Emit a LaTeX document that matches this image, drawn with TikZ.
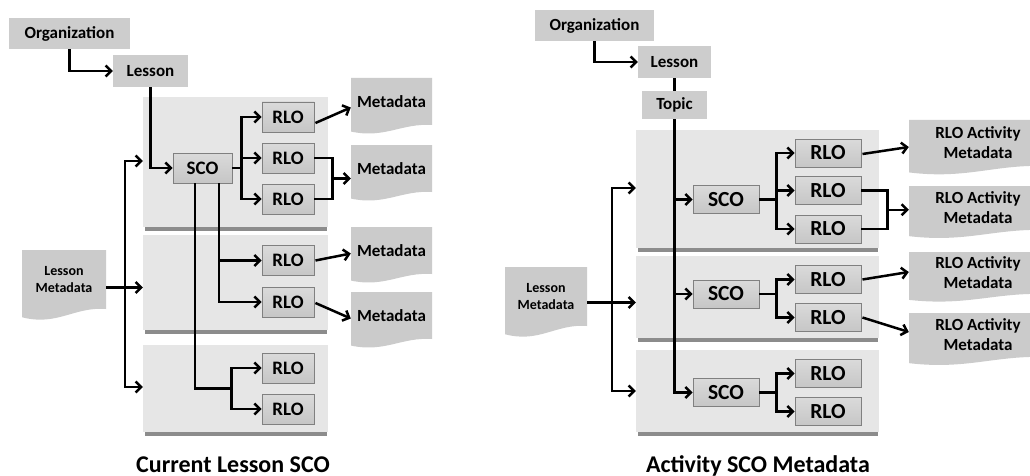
\documentclass[tikz,border=0pt]{standalone}
\usepackage{fontspec}
\setmainfont{Carlito}
\usetikzlibrary{arrows.meta,calc}

\definecolor{boxgray}{HTML}{CDCDCD}
\definecolor{panelgray}{HTML}{E6E6E6}
\definecolor{shadowgray}{HTML}{8C8C8C}
\definecolor{objtop}{HTML}{DADADA}
\definecolor{objbot}{HTML}{C6C6C6}
\definecolor{objedge}{HTML}{808080}
\definecolor{docgray}{HTML}{CBCBCB}

\newcommand\fLbl{\bfseries\fontsize{17}{20}\selectfont}
\newcommand\fSmall{\bfseries\fontsize{14}{17.5}\selectfont}
\newcommand\fObjL{\bfseries\fontsize{19}{20}\selectfont}
\newcommand\fObjR{\bfseries\fontsize{21.5}{22}\selectfont}
\newcommand\fTitle{\bfseries\fontsize{24}{26}\selectfont}

\tikzset{
  lbl/.style={fill=boxgray, font=\fLbl, inner sep=0pt},
  obj/.style={top color=objtop, bottom color=objbot, draw=objedge, line width=0.9pt, inner sep=0pt},
  objL/.style={obj, font=\fObjL},
  objR/.style={obj, font=\fObjR},
  wire/.style={line width=2.5pt, line join=miter},
  link/.style={wire, -{Straight Barb[length=5.5pt,width=11pt]}},
  heading/.style={font=\fTitle, anchor=base, inner sep=0pt},
}

% grey panel with a dark shadow strip along its lower edge
\newcommand\panel[5]{%
  \fill[shadowgray] ({#2+2},{#5-2}) rectangle ({#4-1},{#5+3.5});
  \node[fill=panelgray, inner sep=0pt, minimum width={#4-#2}, minimum height={#5-#3}]
    (#1) at ({(#2+#4)/2},{(#3+#5)/2}) {};
}

% document shape: flat top, wavy bottom; node spans x1..x2, top..yr
\newcommand\docnode[7]{%
  \pgfmathsetmacro\dw{#4-#2}%
  \pgfmathsetmacro\dh{#5-#3}%
  \pgfmathsetmacro\dd{0.14*\dh}%
  \fill[docgray] (#2,#3) -- (#4,#3) -- (#4,#5)
    .. controls ({#4-0.38*\dw},{#5-0.3*\dd}) and ({#2+0.42*\dw},{#5+2.1*\dd}) .. (#2,{#5+\dd}) -- cycle;
  \node[font=#6, align=center, inner sep=0pt, minimum width=\dw, minimum height=\dh]
    (#1) at ({(#2+#4)/2},{(#3+#5)/2}) {#7};
}

\begin{document}
\begin{tikzpicture}[x=1pt,y=-1pt]
\useasboundingbox (0,0) rectangle (1030,476);

% ================= left: Current Lesson SCO =================
\node[lbl, minimum width=121, minimum height=31] (orgL) at (69.5,33.5) {Organization};
\node[lbl, minimum width=75, minimum height=32] (lesL) at (150.5,71) {Lesson};

\panel{pL1}{143}{97}{328}{227}
\panel{pL2}{143}{235}{328}{330}
\panel{pL3}{143}{345}{328}{432}

\node[objL, minimum width=59, minimum height=30] (scoL) at (202.5,168) {SCO};
\foreach \n/\y in {1/117,2/158,3/199,4/260.5,5/302,6/368,7/409}
  \node[objL, minimum width=52, minimum height=30] (rloL\n) at (288,\y) {RLO};

\docnode{metaL1}{351}{78}{432}{125}{\fLbl}{Metadata}
\docnode{metaL2}{351}{145}{432}{192}{\fLbl}{Metadata}
\docnode{metaL3}{351}{227}{432}{274}{\fLbl}{Metadata}
\docnode{metaL4}{351}{292}{432}{339}{\fLbl}{Metadata}
\docnode{lmL}{22}{250}{106}{309}{\fSmall}{Lesson\\Metadata}

\draw[link] (orgL.south) |- (lesL.west);
\draw[link] (lesL.south) |- (scoL.west);

% SCO to its three RLOs
\coordinate (jL) at ($(scoL.east)+(9,0)$);
\foreach \n in {1,2,3}
  \draw[link] (scoL.east) -- (jL) |- (rloL\n.west);

% two drops from the SCO to the lower panels
\coordinate (dA) at ($(scoL.south)+(16.5,0)$);
\coordinate (dB) at ($(scoL.south)+(-7.5,0)$);
\draw[link] (dA) |- (rloL4.west);
\draw[link] (dA) |- (rloL5.west);
\coordinate (jL3) at ($(rloL6.west)!.5!(rloL7.west)+(-30,0)$);
\draw[wire] (dB) |- (jL3);
\draw[link] (jL3) |- (rloL6.west);
\draw[link] (jL3) |- (rloL7.west);

% RLO to metadata
\draw[link] ($(rloL1.east)+(1,6)$) -- ($(metaL1.west)+(0,6)$);
\coordinate (mjL) at ($(rloL2.east)!.5!(rloL3.east)+(18,0)$);
\draw[wire] (rloL2.east) -| (mjL) |- (rloL3.east);
\draw[link] (mjL) -- (mjL -| metaL2.west);
\draw[link] ($(rloL4.east)+(1,0)$) -- ($(metaL3.west)+(0,3)$);
\draw[link] ($(rloL5.east)+(1,1)$) -- ($(metaL4.west)+(0,3)$);

% lesson metadata bus
\coordinate (busLt) at (125,161);
\coordinate (busLb) at (125,387);
\draw[link] (busLb) |- (pL1.west |- busLt);
\draw[link] (busLt) |- (pL3.west |- busLb);
\coordinate (lmLout) at ($(lmL.east)+(0,8)$);
\draw[link] (lmLout) -- (lmLout -| pL2.west);

\node[heading] (titleL) at (233,472) {Current Lesson SCO};

% ================= right: Activity SCO Metadata =================
\node[lbl, minimum width=119, minimum height=31] (orgR) at (594.5,25.5) {Organization};
\node[lbl, minimum width=73, minimum height=32] (lesR) at (674.5,62) {Lesson};
\node[lbl, minimum width=65, minimum height=28] (topic) at (674.5,105) {Topic};

\panel{pR1}{636}{130}{879}{248}
\panel{pR2}{636}{256}{879}{338}
\panel{pR3}{636}{350}{879}{432}

\node[objR, minimum width=66, minimum height=28] (scoR1) at (726,199.5) {SCO};
\node[objR, minimum width=66, minimum height=28] (scoR2) at (726,294) {SCO};
\node[objR, minimum width=66, minimum height=28] (scoR3) at (726,392.5) {SCO};
\foreach \n/\y in {1/153,2/190.5,3/229,4/279.5,5/317.5,6/373.5,7/411.5}
  \node[objR, minimum width=66, minimum height=28] (rloR\n) at (828,\y) {RLO};

\docnode{metaR1}{909}{120}{1047}{166}{\fLbl}{RLO Activity\\Metadata}
\docnode{metaR2}{909}{186}{1047}{230}{\fLbl}{RLO Activity\\Metadata}
\docnode{metaR3}{909}{252}{1047}{294}{\fLbl}{RLO Activity\\Metadata}
\docnode{metaR4}{909}{313}{1047}{357}{\fLbl}{RLO Activity\\Metadata}
\docnode{lmR}{505}{267}{587}{326}{\fSmall}{Lesson\\Metadata}

\draw[link] (orgR.south) |- (lesR.west);
\draw[wire] (lesR.south) -- (topic.north);
\draw[link] (topic.south) |- (scoR1.west);
\draw[link] (topic.south) |- (scoR2.west);
\draw[link] (topic.south) |- (scoR3.west);

% each SCO to its RLOs
\coordinate (jR1) at ($(scoR1.east)+(17,0)$);
\foreach \n in {1,2,3}
  \draw[link] (scoR1.east) -- (jR1) |- (rloR\n.west);
\coordinate (jR2) at ($(scoR2.east)+(17,0)$);
\foreach \n in {4,5}
  \draw[link] (scoR2.east) -- (jR2) |- (rloR\n.west);
\coordinate (jR3) at ($(scoR3.east)+(17,0)$);
\foreach \n in {6,7}
  \draw[link] (scoR3.east) -- (jR3) |- (rloR\n.west);

% RLO to activity metadata
\draw[link] ($(rloR1.east)+(1,1)$) -- ($(metaR1.west)+(0,4)$);
\coordinate (mjR) at ($(rloR2.east)!.5!(rloR3.east)+(26,0)$);
\draw[wire] (rloR2.east) -| (mjR) |- (rloR3.east);
\draw[link] (mjR) -- (mjR -| metaR2.west);
\draw[link] ($(rloR4.east)+(1,0)$) -- ($(metaR3.west)+(0,-1)$);
\draw[link] ($(rloR5.east)+(1,0)$) -- ($(metaR4.west)+(0,-3)$);

% lesson metadata bus
\coordinate (busRt) at (612,188);
\coordinate (busRb) at (612,391);
\draw[link] (busRb) |- (pR1.west |- busRt);
\draw[link] (busRt) |- (pR3.west |- busRb);
\coordinate (lmRout) at ($(lmR.east)+(0,6)$);
\draw[link] (lmRout) -- (lmRout -| pR2.west);

\node[heading] (titleR) at (758,472) {Activity SCO Metadata};
\end{tikzpicture}
\end{document}
